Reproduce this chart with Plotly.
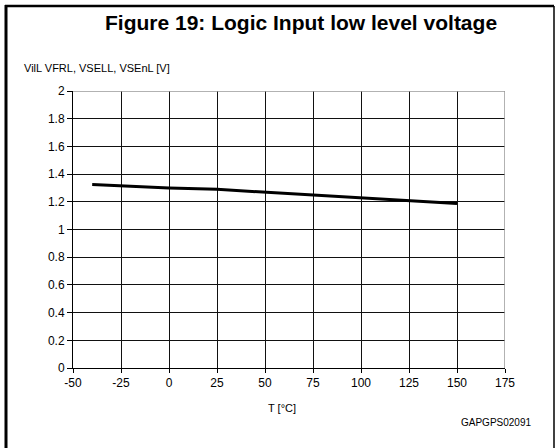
import plotly.graph_objects as go

temps = [-40, -25, 0, 25, 50, 75, 100, 125, 150]
voltage = [1.325, 1.315, 1.30, 1.29, 1.27, 1.25, 1.23, 1.21, 1.187]
x_ticks = [-50, -25, 0, 25, 50, 75, 100, 125, 150, 175]
x_labels = ["-50", "-25", "0", "25", "50", "75", "100", "125", "150", "175"]
y_ticks = [0, 0.2, 0.4, 0.6, 0.8, 1, 1.2, 1.4, 1.6, 1.8, 2]
y_labels = ["0", "0.2", "0.4", "0.6", "0.8", "1", "1.2", "1.4", "1.6", "1.8", "2"]

W, H = 557, 448
L, R, T, B = 73, 52, 91, 80
pw, ph = W - L - R, H - T - B

def px(x):
    return (x - L) / pw

def py(y):
    return (H - B - y) / ph

fig = go.Figure()
fig.add_trace(go.Scatter(x=temps, y=voltage, mode="lines",
                         line=dict(color="black", width=3), showlegend=False))

font = dict(family="Liberation Sans, Arial, sans-serif", size=12, color="black")
fig.update_layout(
    width=W, height=H,
    margin=dict(l=L, r=R, t=T, b=B),
    paper_bgcolor="white", plot_bgcolor="white",
    font=font,
    xaxis=dict(range=[-50, 175], tickvals=x_ticks, ticktext=x_labels, ticks="outside",
               ticklen=4, tickcolor="black", showline=True, linecolor="black", linewidth=1,
               showgrid=True, gridcolor="#111", gridwidth=1, zeroline=False,
               tickfont=font, fixedrange=True),
    yaxis=dict(range=[0, 2], tickvals=y_ticks, ticktext=y_labels, ticks="outside",
               ticklen=5, tickcolor="black", showline=True, linecolor="black",
               linewidth=1, showgrid=True, gridcolor="#111", gridwidth=1,
               zeroline=False, tickfont=font, fixedrange=True),
    shapes=[
        # outer frame
        dict(type="line", xref="paper", yref="paper", x0=px(6), x1=px(6), y0=py(5), y1=py(448),
             line=dict(color="black", width=3)),
        dict(type="line", xref="paper", yref="paper", x0=px(5), x1=px(554), y0=py(6), y1=py(6),
             line=dict(color="black", width=2.5)),
        dict(type="line", xref="paper", yref="paper", x0=px(554), x1=px(554), y0=py(6), y1=py(448),
             line=dict(color="black", width=1.5)),
        # gray edge lines
        dict(type="line", xref="x", yref="y", x0=175, x1=175, y0=0, y1=2,
             line=dict(color="#999", width=1.5)),
        dict(type="line", xref="x", yref="y", x0=-50, x1=175, y0=2, y1=2,
             line=dict(color="#999", width=1.5)),
    ],
    annotations=[
        dict(text="<b>Figure 19: Logic Input low level voltage</b>", xref="paper", yref="paper",
             x=px(301), y=py(22), xanchor="center", yanchor="middle", showarrow=False,
             font=dict(family="Liberation Sans, Arial, sans-serif", size=21, color="black")),
        dict(text="VilL VFRL, VSELL, VSEnL [V]", xref="paper", yref="paper",
             x=px(22), y=py(68), xanchor="left", yanchor="middle", showarrow=False,
             font=dict(family="Liberation Sans, Arial, sans-serif", size=11, color="black")),
        dict(text="T [°C]", xref="paper", yref="paper",
             x=px(282), y=py(408), xanchor="center", yanchor="middle", showarrow=False,
             font=dict(family="Liberation Sans, Arial, sans-serif", size=11, color="black")),
        dict(text="GAPGPS02091", xref="paper", yref="paper",
             x=px(533), y=py(422), xanchor="right", yanchor="middle", showarrow=False,
             font=dict(family="Liberation Sans, Arial, sans-serif", size=10, color="black")),
    ],
)

fig.write_html("out.html", config={"displayModeBar": False},
               post_script="document.body.style.margin='0';document.body.style.overflow='hidden';")
